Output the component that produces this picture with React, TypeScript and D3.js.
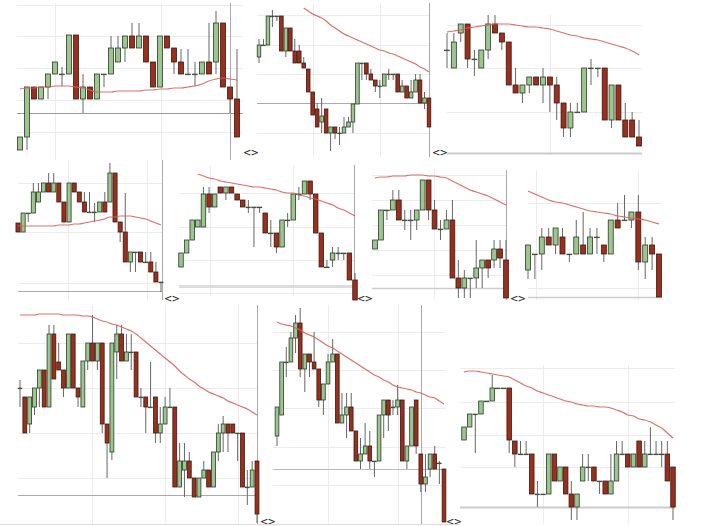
import React, { useEffect, useRef } from 'react';
import * as d3 from 'd3';

// each candle: [open, high, low, close]
type Candle = [number, number, number, number];

const candlesA: Candle[] = [
  [10,23,10,23],[23,73,10,73],[73,73,61,61],[61,73,61,73],[73,86,61,86],[86,98,86,98],
  [86,93,74,86],[86,125,86,125],[125,125,61,61],[61,86,47,73],[73,73,61,61],[61,86,61,86],
  [86,86,73,86],[86,124,86,112],[98,124,98,112],[112,124,98,124],[124,137,112,112],[112,137,112,124],
  [124,124,98,98],[98,98,73,73],[73,124,73,124],[124,124,112,112],[112,112,86,98],[98,111,86,86],
  [86,111,86,86],[86,98,74,86],[86,98,86,98],[98,137,86,86],[98,149,86,137],[137,137,73,73],
  [73,73,47,61],[61,111,23,23],
];
const maA = [71,72,72,73,73,74,74,74,73,72,70,68,68,68,69,69,69,69,70,70,71,71,72,72,73,74,76,79,81,82,81,80];

const candlesB: Candle[] = [
  [103,121,97,115],[115,121,115,115],[115,144,115,144],[144,150,133,144],[144,144,139,144],[144,144,109,109],
  [109,132,103,132],[132,132,109,109],[109,121,97,97],[109,115,97,97],[97,103,92,92],[91,91,68,68],
  [68,68,45,45],[51,57,33,33],[38,62,27,44],[51,51,27,27],[27,33,9,33],[33,33,21,27],
  [27,33,15,27],[27,43,27,33],[33,43,33,38],[38,56,27,56],[56,97,56,97],[97,97,80,97],
  [97,97,80,86],[86,91,80,80],[80,80,68,74],[74,80,62,74],[74,86,74,86],[86,91,80,86],
  [86,86,80,86],[86,86,68,68],[68,80,68,74],[74,74,62,62],[62,80,62,68],[68,86,68,80],
  [80,86,57,57],[57,68,51,62],[62,62,33,33],
];
const maB = [null,null,null,null,null,null,null,null,null,null,
  152,149,146,144,142,139,135,132,129,126,124,122,120,118,116,114,112,110,109,107,106,104,102,100,98,96,93,91,88];

const candlesC: Candle[] = [
  [110,127,92,110],[92,127,92,118],[127,136,118,136],[136,136,92,101],[101,110,84,101],[92,110,92,110],
  [110,145,101,136],[136,145,127,127],[127,127,110,118],[118,118,75,75],[75,92,67,67],[67,75,57,75],
  [75,83,67,83],[83,83,75,75],[75,92,57,83],[83,83,48,75],[75,83,40,57],[57,57,23,32],
  [32,57,23,48],[48,57,48,48],[48,92,48,92],[92,101,75,92],[92,92,83,92],[92,92,40,40],
  [40,75,32,75],[75,75,40,40],[40,57,23,23],[40,48,23,23],[23,40,14,14],
];
const maC = [128,129,130,132,133,134,135,136,136,136,135,134,133,133,132,131,129,127,125,124,122,121,120,118,116,114,112,109,105];

const candlesD: Candle[] = [
  [77,77,68,68],[68,87,68,87],[87,87,78,87],[87,117,87,108],[98,117,98,108],[108,117,108,117],
  [117,127,108,108],[108,127,108,117],[117,117,98,98],[98,98,78,78],[78,117,78,117],[117,117,108,108],
  [108,108,98,98],[98,108,88,88],[88,108,88,88],[88,97,78,88],[88,98,88,98],[98,108,88,88],
  [98,137,98,127],[127,127,78,78],[78,78,58,68],[68,107,38,38],[38,48,28,48],[48,48,28,48],
  [48,48,38,38],[38,48,38,38],[38,48,28,28],[28,38,18,18],[18,18,8,18],
];
const maD = [74,74,74,74,74,74,74,74,75,75,75,76,76,77,78,79,80,81,83,83,84,84,84,83,82,81,79,77,75];

const candlesE: Candle[] = [
  [33,47,33,47],[47,60,47,60],[60,80,60,80],[73,80,73,80],[73,113,73,106],[106,113,87,93],
  [93,106,93,106],[113,113,107,107],[107,113,100,113],[113,113,107,107],[106,106,100,100],[100,100,93,93],
  [93,100,87,93],[93,93,53,93],[93,93,87,93],[87,87,67,67],[67,80,53,67],[67,67,47,53],
  [53,80,53,80],[80,87,73,80],[80,106,80,106],[106,113,100,106],[106,119,106,119],[119,119,100,106],
  [106,106,67,67],[67,67,33,33],[33,40,33,33],[40,53,33,47],[47,53,40,47],[47,47,40,47],
  [47,47,20,20],[20,27,0,0],
];
const maE = [null,null,null,
  126,124,122,121,119,118,117,116,115,114,113,113,112,111,110,108,107,107,105,104,102,101,99,97,95,92,90,87,84];

const candlesF: Candle[] = [
  [51,60,51,60],[60,90,60,90],[90,90,80,90],[90,110,90,100],[100,110,80,80],[80,90,70,80],
  [80,90,60,80],[80,90,70,90],[90,120,90,120],[120,120,80,90],[90,100,71,71],[71,80,60,71],
  [71,90,71,80],[80,100,22,22],[22,40,2,12],[12,30,2,22],[22,22,2,22],[22,60,12,32],
  [32,40,12,40],[40,40,22,32],[40,60,32,51],[51,60,32,42],[40,60,2,2],
];
const maF = [122,123,123,124,124,124,125,125,125,124,124,123,122,119,116,113,110,108,106,104,101,98,95];

const candlesG: Candle[] = [
  [30,55,21,55],[46,46,21,46],[46,72,30,63],[63,72,55,55],[55,72,46,72],[63,72,46,46],
  [46,46,38,46],[46,80,46,63],[55,88,46,46],[46,72,46,63],[63,72,46,63],[55,55,38,46],
  [46,80,46,80],[80,97,72,72],[80,105,80,80],[80,88,72,88],[88,105,30,38],[38,63,21,55],
  [55,63,30,46],[46,46,3,3],
];
const maG = [109,106,103,100,98,97,95,93,91,89,88,87,86,84,83,82,81,80,78,76];

const candlesH: Candle[] = [
  [138,146,119,138],[129,129,93,93],[102,129,93,129],[119,138,111,138],[138,156,119,156],[156,156,119,119],
  [119,201,119,192],[192,201,147,147],[164,183,156,156],[156,156,129,138],[138,192,138,192],[192,192,138,138],
  [138,138,119,129],[119,165,119,165],[165,183,156,183],[183,211,165,165],[165,183,156,183],[183,183,93,102],
  [102,102,48,83],[74,183,66,183],[174,201,147,192],[192,201,165,165],[165,192,165,174],[174,192,156,174],
  [174,174,129,129],[129,138,119,129],[129,129,93,119],[119,164,119,119],[129,129,83,93],[93,119,83,102],
  [102,129,102,119],[119,138,119,119],[119,119,39,39],[39,83,39,65],[56,83,29,65],[65,74,48,48],
  [48,48,29,29],[29,48,29,48],[48,65,48,56],[56,56,39,39],[39,74,39,74],[74,102,65,93],
  [93,110,74,102],[102,102,74,93],[102,102,93,93],[93,93,65,93],[93,93,39,39],[39,56,21,39],
  [39,65,39,56],[65,65,3,12],
];
const maH = [211,211,211,211,212,212,212,212,212,211,211,211,211,210,210,209,207,205,204,202,
  201,199,197,195,192,188,184,180,176,172,168,164,160,155,151,147,144,140,137,134,
  132,130,128,125,123,121,119,117,114,111];

const candlesI: Candle[] = [
  [90,119,80,119],[111,164,111,164],[164,179,149,164],[164,194,164,188],[188,211,173,203],[203,218,149,157],
  [157,172,134,172],[172,172,149,164],[164,194,157,157],[157,157,119,126],[126,142,111,142],[142,172,142,164],
  [164,187,164,172],[172,172,103,103],[103,133,103,111],[111,133,88,119],[119,133,95,95],[95,95,65,65],
  [65,88,57,72],[72,103,72,80],[80,95,57,65],[65,65,49,65],[65,111,65,111],[111,126,88,126],
  [126,126,95,111],[119,126,111,119],[119,141,111,126],[126,126,65,65],[65,80,57,80],[80,119,80,119],
  [126,126,72,80],[72,72,34,42],[42,72,34,49],[57,72,49,72],[72,80,57,57],[63,65,42,63],
  [57,57,4,4],
];
const maI = [204,202,201,200,198,196,193,191,189,186,183,180,178,175,172,169,166,163,160,157,
  154,151,149,146,144,141,139,138,137,136,134,133,131,129,128,125,122];

const candlesJ: Candle[] = [
  [86,99,86,99],[99,112,99,112],[112,112,73,112],[112,125,112,125],[125,125,125,125],[125,151,125,138],
  [138,138,138,138],[138,138,138,138],[138,138,73,86],[85,85,59,72],[72,85,72,72],[72,85,72,72],
  [72,72,32,32],[32,45,19,32],[32,32,32,32],[32,72,32,72],[72,72,45,45],[45,59,45,59],
  [59,59,32,32],[32,45,6,19],[19,32,6,32],[45,72,45,59],[59,72,45,59],[59,59,45,45],
  [45,45,32,45],[45,45,32,32],[32,72,32,45],[45,85,45,72],[72,85,72,72],[72,72,59,59],
  [59,72,59,72],[85,85,59,59],[59,85,59,72],[72,99,72,72],[72,85,72,72],[72,85,59,72],
  [72,85,45,45],[59,59,6,19],
];
const maJ = [154,155,155,154,153,152,151,150,149,146,143,140,138,135,133,131,129,127,125,124,
  122,121,120,120,119,119,118,116,114,111,110,107,106,104,101,98,93,88];

// grid levels per panel (price units)
const gridA = [155, 124, 92, 60, 28];
const gridB = [145, 115, 86, 27];
const gridC = [135, 92, 48];
const gridD = [117, 68, 17];
const gridE = [107, 73, 40, 7];
const gridF = [125, 100, 75, 50, 25];
const gridG = [97, 12];
const gridH = [183, 138, 93, 48];
const gridI = [194, 156, 118, 79, 41];
const gridJ = [158, 124, 91, 59];

interface Panel {
  candles: Candle[];
  ma: (number | null)[];
  grid: number[];
  ref: number; // reference price line
  x0: number; x1: number; top: number; bottom: number; base: number;
  first: number; last: number;
  vGrid: number[];
  darkV?: number;
  refColor: string; refWidth: number;
  mark?: [number, number];
}

const panels: Panel[] = [
  { candles: candlesA, ma: maA, grid: gridA, ref: 47, x0: 17, x1: 243, top: 3, bottom: 160, base: 160,
    first: 20, last: 237, vGrid: [55, 161], darkV: 230, refColor: '#999', refWidth: 1, mark: [243, 156] },
  { candles: candlesB, ma: maB, grid: gridB, ref: 57, x0: 257, x1: 430, top: 3, bottom: 157, base: 160,
    first: 259, last: 429, vGrid: [313, 380], darkV: 429, refColor: '#aaa', refWidth: 1, mark: [432, 156] },
  { candles: candlesC, ma: maC, grid: gridC, ref: 7, x0: 447, x1: 642, top: 15, bottom: 155, base: 160,
    first: 447, last: 639, vGrid: [550], refColor: '#ccc', refWidth: 2 },
  { candles: candlesD, ma: maD, grid: gridD, ref: 9, x0: 18, x1: 163, top: 160, bottom: 300, base: 300,
    first: 18, last: 161, vGrid: [68, 147], darkV: 162, refColor: '#aaa', refWidth: 1, mark: [164, 302] },
  { candles: candlesE, ma: maE, grid: gridE, ref: 14, x0: 179, x1: 355, top: 165, bottom: 296, base: 300,
    first: 181, last: 355, vGrid: [210, 293], darkV: 354, refColor: '#ddd', refWidth: 3, mark: [357, 302] },
  { candles: candlesF, ma: maF, grid: gridF, ref: 12, x0: 372, x1: 507, top: 170, bottom: 300, base: 300,
    first: 375, last: 506, vGrid: [434], darkV: 506, refColor: '#ccc', refWidth: 1.5, mark: [510, 302] },
  { candles: candlesG, ma: maG, grid: gridG, ref: 3, x0: 528, x1: 662, top: 170, bottom: 300, base: 300,
    first: 528, last: 659, vGrid: [536, 638], refColor: '#ccc', refWidth: 1.5 },
  { candles: candlesH, ma: maH, grid: gridH, ref: 31, x0: 18, x1: 258, top: 305, bottom: 524, base: 526,
    first: 20, last: 257, vGrid: [92, 165, 238], darkV: 257, refColor: '#aaa', refWidth: 1, mark: [260, 525] },
  { candles: candlesI, ma: maI, grid: gridI, ref: 57, x0: 273, x1: 445, top: 305, bottom: 524, base: 526,
    first: 277, last: 444, vGrid: [328, 398], darkV: 421, refColor: '#bbb', refWidth: 1, mark: [446, 525] },
  { candles: candlesJ, ma: maJ, grid: gridJ, ref: 19, x0: 460, x1: 675, top: 365, bottom: 524, base: 526,
    first: 464, last: 673, vGrid: [543, 628], refColor: '#ccc', refWidth: 2 },
];

const UP_FILL = '#9cc58f';
const UP_STROKE = '#2c3a27';
const DOWN_FILL = '#9b2f1d';
const DOWN_STROKE = '#3b1a12';

const App: React.FC = () => {
  const svgRef = useRef<SVGSVGElement>(null);

  useEffect(() => {
    if (!svgRef.current) return;
    const svg = d3.select(svgRef.current);
    svg.selectAll('*').remove();

    svg.append('rect').attr('width', 725).attr('height', 526).attr('fill', '#fff');

    panels.forEach((p) => {
      const n = p.candles.length;
      const x = d3.scaleLinear().domain([0, n - 1]).range([p.first, p.last]);
      const y = d3.scaleLinear().domain([0, 100]).range([p.base, p.base - 100]);
      const step = (p.last - p.first) / (n - 1);
      const bw = Math.min(5, step * 0.8);

      const g = svg.append('g');

      // grid
      g.selectAll('line.hg').data(p.grid).enter().append('line')
        .attr('x1', p.x0).attr('x2', p.x1)
        .attr('y1', (d) => Math.round(y(d)) + 0.5).attr('y2', (d) => Math.round(y(d)) + 0.5)
        .attr('stroke', '#ececec').attr('stroke-width', 1);
      g.selectAll('line.vg').data(p.vGrid).enter().append('line')
        .attr('x1', (d) => d + 0.5).attr('x2', (d) => d + 0.5)
        .attr('y1', p.top).attr('y2', p.bottom)
        .attr('stroke', '#ececec').attr('stroke-width', 1);

      // reference line
      g.append('line')
        .attr('x1', p.x0).attr('x2', p.x1)
        .attr('y1', Math.round(y(p.ref)) + 0.5).attr('y2', Math.round(y(p.ref)) + 0.5)
        .attr('stroke', p.refColor).attr('stroke-width', p.refWidth);

      if (p.darkV !== undefined) {
        g.append('line')
          .attr('x1', p.darkV + 0.5).attr('x2', p.darkV + 0.5)
          .attr('y1', p.top).attr('y2', p.bottom)
          .attr('stroke', '#aaa').attr('stroke-width', 1);
      }

      // wicks
      g.selectAll('line.wick').data(p.candles).enter().append('line')
        .attr('x1', (_, i) => x(i)).attr('x2', (_, i) => x(i))
        .attr('y1', (d) => y(d[1])).attr('y2', (d) => y(d[2]))
        .attr('stroke', '#666').attr('stroke-width', 1);

      // bodies
      g.selectAll('rect.body').data(p.candles).enter().append('rect')
        .attr('x', (_, i) => x(i) - bw / 2)
        .attr('width', bw)
        .attr('y', (d) => y(Math.max(d[0], d[3])))
        .attr('height', (d) => Math.max(0.8, Math.abs(y(d[0]) - y(d[3]))))
        .attr('fill', (d) => (d[3] >= d[0] ? UP_FILL : DOWN_FILL))
        .attr('stroke', (d) => (d[3] >= d[0] ? UP_STROKE : DOWN_STROKE))
        .attr('stroke-width', (d) => (d[3] === d[0] ? 0.6 : 0.8));

      // moving average
      const line = d3.line<number | null>()
        .defined((d) => d !== null)
        .x((_, i) => x(i))
        .y((d) => y(d as number))
        .curve(d3.curveMonotoneX);
      g.append('path')
        .datum(p.ma)
        .attr('d', line)
        .attr('fill', 'none')
        .attr('stroke', '#d9605a')
        .attr('stroke-width', 1.2)
        .attr('opacity', 0.9);

      if (p.mark) {
        g.append('text')
          .attr('x', p.mark[0]).attr('y', p.mark[1])
          .attr('font-family', 'DejaVu Sans, sans-serif')
          .attr('font-size', 10)
          .attr('letter-spacing', -1)
          .attr('fill', '#222')
          .text('<>');
      }
    });

    svg.append('line')
      .attr('x1', 0).attr('x2', 460).attr('y1', 524.5).attr('y2', 524.5)
      .attr('stroke', '#ddd').attr('stroke-width', 1);
  }, []);

  return (
    <svg
      ref={svgRef}
      width={725}
      height={526}
      viewBox="0 0 725 526"
      style={{ position: 'absolute', left: 0, top: 0 }}
    />
  );
};

export default App;
